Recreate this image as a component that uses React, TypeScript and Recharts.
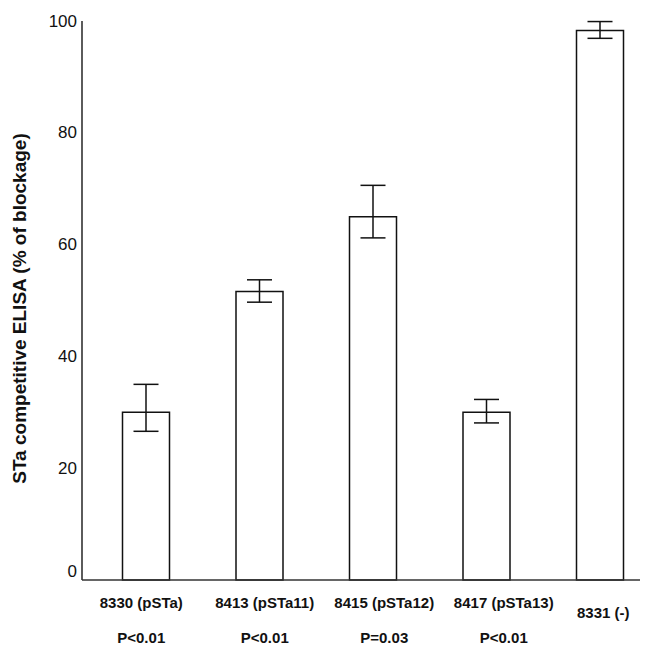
import React from 'react';
import { BarChart, Bar, ErrorBar, XAxis, YAxis, Label } from 'recharts';

const strains = ['8330 (pSTa)', '8413 (pSTa11)', '8415 (pSTa12)', '8417 (pSTa13)', '8331 (-)'];
const pValues = ['P<0.01', 'P<0.01', 'P=0.03', 'P<0.01', ''];
const blockage = [30.0, 51.6, 65.0, 30.0, 98.3];
const errLow = [3.4, 1.9, 3.8, 1.9, 1.4];
const errHigh = [5.0, 2.1, 5.6, 2.3, 1.6];
const yTicks = [0, 20, 40, 60, 80, 100];

const FONT = '"Liberation Sans", Arial, Helvetica, sans-serif';
// small horizontal nudges of the category labels, as in the original figure
const LABEL_SHIFT = [-5, 5, 11, 17, 3];

const data = strains.map((name, i) => ({
    name,
    p: pValues[i],
    value: blockage[i],
    err: [errLow[i], errHigh[i]],
}));

const YTick = (props: any) => {
    const { x, y, payload } = props;
    const dy = payload.value === 0 ? -9 : 0;
    return (
        <text
            x={x}
            y={y + dy}
            textAnchor="end"
            dominantBaseline="central"
            fontFamily={FONT}
            fontSize={17}
            fill="#111"
        >
            {payload.value}
        </text>
    );
};

const XTick = (props: any) => {
    const { x, y, index } = props;
    const row = data[index];
    if (!row) return null;
    const cx = x + (LABEL_SHIFT[index] || 0);
    const first = row.p ? 22 : 32;
    return (
        <g>
            <text
                x={cx}
                y={y + first}
                textAnchor="middle"
                dominantBaseline="central"
                fontFamily={FONT}
                fontWeight="bold"
                fontSize={15}
                fill="#111"
            >
                {row.name}
            </text>
            {row.p && (
                <text
                    x={cx}
                    y={y + 57}
                    textAnchor="middle"
                    dominantBaseline="central"
                    fontFamily={FONT}
                    fontWeight="bold"
                    fontSize={15}
                    fill="#111"
                >
                    {row.p}
                </text>
            )}
        </g>
    );
};

const YLabel = (props: any) => {
    const { viewBox } = props;
    const cx = 11;
    const cy = viewBox.y + viewBox.height / 2 + 8;
    return (
        <text
            x={cx}
            y={cy}
            transform={`rotate(-90 ${cx} ${cy})`}
            textAnchor="middle"
            dominantBaseline="central"
            fontFamily={FONT}
            fontWeight="bold"
            fontSize={19}
            fill="#111"
        >
            STa competitive ELISA (% of blockage)
        </text>
    );
};

export default function App() {
    return (
        <div style={{ width: 640, height: 637, overflow: 'hidden', background: '#fff' }}>
            <BarChart
                width={660}
                height={637}
                data={data}
                margin={{ top: 13, right: 11, bottom: 0, left: 24 }}
                barSize={47}
            >
                <XAxis
                    dataKey="name"
                    height={65}
                    padding={{ left: 7.5, right: 0 }}
                    tickLine={false}
                    tickSize={0}
                    tickMargin={0}
                    axisLine={{ stroke: '#333', strokeWidth: 1.6 }}
                    tick={<XTick />}
                    interval={0}
                />
                <YAxis
                    width={50}
                    domain={[0, 100]}
                    ticks={yTicks}
                    tickLine={false}
                    tickSize={3}
                    tickMargin={2}
                    axisLine={{ stroke: '#333', strokeWidth: 1.6 }}
                    tick={<YTick />}
                >
                    <Label content={<YLabel />} />
                </YAxis>
                <Bar
                    dataKey="value"
                    fill="#fff"
                    stroke="#111"
                    strokeWidth={1.5}
                    isAnimationActive={false}
                >
                    <ErrorBar
                        dataKey="err"
                        direction="y"
                        width={12.5}
                        stroke="#111"
                        strokeWidth={1.5}
                        isAnimationActive={false}
                    />
                </Bar>
            </BarChart>
        </div>
    );
}
